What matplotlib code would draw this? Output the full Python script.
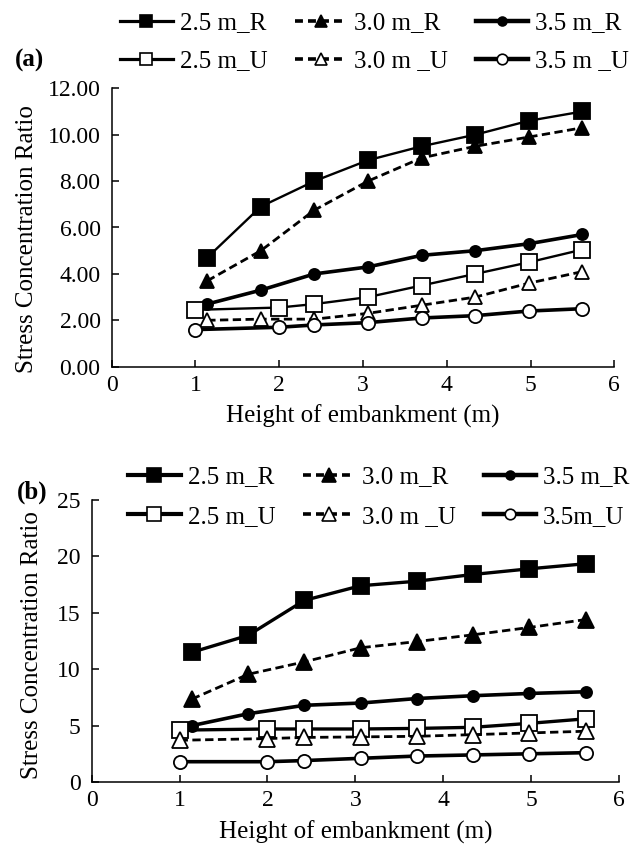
import matplotlib
matplotlib.use("Agg")
import matplotlib.pyplot as plt
from matplotlib.lines import Line2D

plt.rcParams['font.family'] = ['Liberation Serif', 'DejaVu Serif']

# ---------------- data ----------------
x_R = [1.14, 1.78, 2.42, 3.06, 3.70, 4.34, 4.98, 5.62]
x_U = [1.00, 2.00, 2.42, 3.06, 3.70, 4.34, 4.98, 5.62]

a_25R = [4.7, 6.9, 8.0, 8.9, 9.5, 10.0, 10.6, 11.0]
a_30R = [3.7, 5.0, 6.75, 8.0, 9.0, 9.5, 9.9, 10.3]
a_35R = [2.7, 3.3, 4.0, 4.3, 4.8, 5.0, 5.3, 5.7]
a_25U = [2.45, 2.55, 2.7, 3.0, 3.5, 4.0, 4.5, 5.05]
a_30U = [2.0, 2.05, 2.05, 2.3, 2.65, 3.0, 3.6, 4.1]
a_35U = [1.6, 1.7, 1.8, 1.9, 2.1, 2.2, 2.4, 2.5]

b_25R = [11.5, 13.0, 16.1, 17.4, 17.8, 18.4, 18.9, 19.35]
b_30R = [7.35, 9.55, 10.65, 11.9, 12.45, 13.05, 13.7, 14.4]
b_35R = [5.0, 6.05, 6.8, 7.0, 7.4, 7.65, 7.85, 8.0]
b_25U = [4.6, 4.7, 4.7, 4.7, 4.75, 4.85, 5.2, 5.6]
b_30U = [3.7, 3.85, 3.95, 4.0, 4.05, 4.2, 4.35, 4.5]
b_35U = [1.8, 1.8, 1.9, 2.1, 2.3, 2.4, 2.5, 2.6]

labels_a = ["2.5 m_R", "3.0 m_R", "3.5 m_R", "2.5 m_U", "3.0 m _U", "3.5 m _U"]
labels_b = ["2.5 m_R", "3.0 m_R", "3.5 m_R", "2.5 m_U", "3.0 m _U", "3.5m_U"]

xticks = [0, 1, 2, 3, 4, 5, 6]
yticks_a = [0, 2, 4, 6, 8, 10, 12]
yticks_b = [0, 5, 10, 15, 20, 25]

xlabel = "Height of embankment (m)"
ylabel = "Stress Concentration Ratio"

W, H = 641, 846
fig = plt.figure(figsize=(W / 100, H / 100), dpi=100)

FS = 17
LFS = 18


def style_axes(ax, yticks, fmt, labelpad):
    ax.spines['top'].set_visible(False)
    ax.spines['right'].set_visible(False)
    for s in ('left', 'bottom'):
        ax.spines[s].set_linewidth(1.1)
    ax.set_xlim(0, 6)
    ax.set_ylim(yticks[0], yticks[-1])
    ax.set_xticks(xticks)
    ax.set_yticks(yticks)
    ax.set_yticklabels([fmt.format(v) for v in yticks])
    ax.tick_params(axis='both', direction='in', length=5, width=1.1,
                   labelsize=FS)
    ax.tick_params(axis='y', pad=8)
    ax.tick_params(axis='x', pad=6)
    ax.set_xlabel(xlabel, fontsize=LFS, labelpad=labelpad)
    ax.set_ylabel(ylabel, fontsize=LFS)


def series(ax, xs_list, ys_list, big):
    ms_sq = 12 if big else 11.5
    ms_tri = 12 if big else 10.5
    ms_fc = 8 if big else 8
    ms_oc = 9.5
    lw_thin = 2.4 if big else 1.7
    lw_thick = 2.6
    dash = (3, 1.6)
    specs = [
        dict(ls='-', lw=lw_thin, marker='s', ms=ms_sq, mfc='black'),
        dict(ls='--', lw=2.0, marker='^', ms=ms_tri, mfc='black', dashes=dash),
        dict(ls='-', lw=lw_thick, marker='o', ms=ms_fc, mfc='black'),
        dict(ls='-', lw=lw_thin, marker='s', ms=ms_sq, mfc='white'),
        dict(ls='--', lw=2.0, marker='^', ms=ms_tri, mfc='white', dashes=dash),
        dict(ls='-', lw=lw_thick, marker='o', ms=ms_oc, mfc='white'),
    ]
    lines = []
    for xs, ys, sp in zip(xs_list, ys_list, specs):
        kw = dict(sp)
        dashes = kw.pop('dashes', None)
        ln, = ax.plot(xs, ys, color='black', mec='black', mew=1.3,
                      clip_on=False, **kw)
        if dashes is not None:
            ln.set_dashes(dashes)
        lines.append(ln)
    return lines


def add_legend(ax, lines, labels, x0, ytop, lspace):
    order = [0, 3, 1, 4, 2, 5]
    handles = []
    for i in order:
        ln = lines[i]
        h = Line2D([], [], color='black', ls=ln.get_linestyle(),
                   lw=ln.get_linewidth() + 0.6, marker=ln.get_marker(),
                   ms=ln.get_markersize() * 0.8, mfc=ln.get_markerfacecolor(),
                   mec='black', mew=1.2)
        if ln.get_linestyle() == '--':
            h.set_dashes((2.2, 1.4))
        handles.append(h)
    ax.legend(handles, [labels[i] for i in order], ncol=3, frameon=False,
              fontsize=LFS, loc='upper left',
              bbox_to_anchor=(x0 / W, 1 - ytop / H),
              bbox_transform=fig.transFigure, borderpad=0, borderaxespad=0,
              handlelength=2.1, handletextpad=0.28, columnspacing=1.1,
              labelspacing=lspace)


# ---------------- panel (a) ----------------
ax1 = fig.add_axes([111.7 / W, 1 - 366.7 / H, (614.3 - 111.7) / W,
                    (366.7 - 88.3) / H])
l1 = series(ax1, [x_R, x_R, x_R, x_U, x_R, x_U],
            [a_25R, a_30R, a_35R, a_25U, a_30U, a_35U], big=False)
style_axes(ax1, yticks_a, "{:.2f}", 6)
ax1.yaxis.set_label_coords(-0.1466, 0.46)
add_legend(ax1, l1, labels_a, 120, 12, 0.62)
fig.text(15 / W, 1 - 60 / H, "(a)", fontsize=18, fontweight='bold',
         va='center', ha='left')

# ---------------- panel (b) ----------------
ax2 = fig.add_axes([91.7 / W, 1 - 782 / H, (619 - 91.7) / W,
                    (782 - 500) / H])
l2 = series(ax2, [x_R, x_R, x_R, x_U, x_U, x_U],
            [b_25R, b_30R, b_35R, b_25U, b_30U, b_35U], big=True)
style_axes(ax2, yticks_b, "{:d}", 7)
ax2.yaxis.set_label_coords(-0.0924, 0.486)
add_legend(ax2, l2, labels_b, 128, 466, 0.68)
fig.text(17 / W, 1 - 492 / H, "(b)", fontsize=18, fontweight='bold',
         va='center', ha='left')

fig.savefig("out.png", dpi=100)
